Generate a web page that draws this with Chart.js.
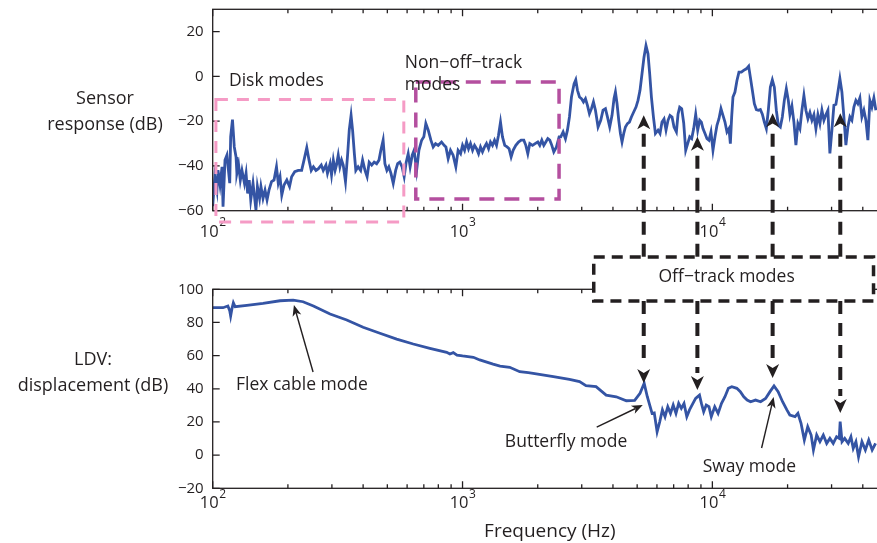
<!DOCTYPE html>
<html>
<head>
<meta charset="utf-8">
<script src="https://cdn.jsdelivr.net/npm/chart.js@4.4.0/dist/chart.umd.min.js"></script>
<style>
html, body { margin: 0; padding: 0; background: #fff; overflow: hidden; }
#wrap { position: relative; width: 877px; height: 543px; overflow: hidden; }
#wrap canvas { position: absolute; left: 0; top: 0; }
</style>
</head>
<body>
<div id="wrap">
    <canvas id="sensor-chart" width="890" height="543"></canvas>
    <canvas id="ldv-chart" width="890" height="543"></canvas>
</div>
<script>
const INK = '#231f20';
const BLUE = '#3454a4';
const PINK = '#f59bc5';
const PURPLE = '#b44f9f';
const FONT = '"Open Sans", sans-serif';

// Sensor response (dB) vs frequency (Hz)
let sensorFreq = [100, 102, 104, 105, 107, 109, 110, 112, 114, 117, 118, 120, 122, 124, 125, 127, 129, 131, 134, 136,
    138, 140, 142, 145, 147, 149, 151, 154, 156, 159, 162, 165, 168, 172, 176, 180, 183, 186, 189, 193,
    198, 203, 207, 213, 220, 227, 232, 238, 243, 248, 253, 259, 265, 272, 277, 284, 288, 295, 299, 304,
    309, 313, 318, 323, 328, 333, 340, 347, 352, 358, 363, 369, 374, 382, 391, 398, 407, 415, 423, 433,
    443, 453, 463, 471, 481, 489, 498, 507, 517, 528, 540, 550, 561, 573, 584, 595, 606, 617, 629, 640,
    655, 669, 686, 700, 713, 729, 747, 763, 780, 799, 824, 844, 858, 876, 895, 917, 940, 960, 982, 1000,
    1019, 1038, 1057, 1076, 1097, 1117, 1138, 1159, 1180, 1202, 1225, 1247, 1271, 1294, 1318, 1343, 1368, 1393, 1419, 1445,
    1476, 1508, 1536, 1565, 1594, 1634, 1675, 1716, 1759, 1792, 1825, 1859, 1906, 1952, 2001, 2038, 2076, 2115, 2154, 2194,
    2235, 2277, 2319, 2377, 2435, 2474, 2527, 2582, 2630, 2679, 2729, 2795, 2839, 2884, 2938, 2992, 3048, 3105, 3162, 3221,
    3281, 3342, 3404, 3487, 3574, 3651, 3733, 3802, 3883, 3966, 4040, 4093, 4154, 4220, 4285, 4349, 4418, 4487, 4571, 4656,
    4742, 4843, 4947, 5039, 5133, 5228, 5325, 5424, 5525, 5612, 5702, 5808, 5916, 6061, 6173, 6286, 6405, 6524, 6645, 6768,
    6895, 7023, 7178, 7286, 7400, 7538, 7678, 7821, 7966, 8115, 8265, 8419, 8576, 8736, 8898, 9036, 9170, 9342, 9515, 9692,
    9872, 10056, 10243, 10433, 10627, 10825, 11026, 11231, 11440, 11653, 11803, 11946, 12090, 12314, 12543, 12776, 13062, 13341, 13677, 13970,
    14191, 14454, 14723, 14997, 15276, 15560, 15849, 16144, 16444, 16749, 17061, 17378, 17701, 18030, 18365, 18707, 19055, 19409, 19770, 20137,
    20436, 20817, 21204, 21598, 22000, 22409, 22826, 23250, 23682, 24123, 24571, 25028, 25493, 25967, 26450, 26942, 27443, 27953, 28473, 29002,
    29541, 30091, 30650, 31220, 31800, 32392, 32994, 33607, 34232, 34869, 35517, 36178, 36850, 37536, 38233, 38944, 39669, 40406, 41158, 41923,
    42703, 43497, 44306, 45130];
let sensorDb = [-58, -44.8, -50.8, -41.9, -48.5, -40.4, -58.2, -37.4, -35.2, -47.7, -27, -19.3, -31.5, -36, -43.3, -39.6, -46.3, -42, -47.7, -43.3,
    -52.3, -46.3, -55.2, -47.7, -53.7, -59.7, -49.2, -54.5, -49.2, -54.5, -50.8, -55.2, -50.8, -47, -46.3, -40.4, -47.7, -44.8, -53, -48.5,
    -46.3, -49.2, -44.8, -42.6, -42, -42, -37.4, -31.8, -37.4, -42, -40.4, -42, -41.2, -39.6, -42, -39.6, -43.3, -39, -44, -37.4,
    -42, -39.6, -35.2, -40.4, -37.4, -39.6, -47, -34.5, -24, -17.4, -24, -34.5, -42, -40.4, -42, -37.4, -42, -44.8, -38.3, -39.6,
    -38.3, -39, -37.4, -33, -28.5, -39, -42, -40.4, -43.3, -47.8, -42, -39, -38.3, -40.4, -44.8, -38.3, -34.5, -40.4, -35.2, -33,
    -42, -33, -28.5, -27, -21, -24, -28.5, -31.5, -30, -30.8, -29.3, -30.8, -31.5, -36.7, -33, -35.2, -40.4, -33, -34.5, -30.8,
    -33, -29.3, -32.3, -30, -33, -30.8, -32.3, -34.5, -31.5, -33.7, -31.5, -30, -32.3, -29.3, -30.8, -28.5, -30.8, -26.3, -20.4, -27,
    -30.8, -31.5, -32.3, -36, -33, -30.8, -29.3, -28.5, -28.5, -30.8, -34.5, -30, -30.8, -30, -29.3, -30.8, -28.5, -30.8, -29.3, -27.8,
    -28.5, -30.8, -33.7, -31.5, -27, -27, -24.8, -27.8, -24, -18.1, -9.2, -3.3, -1.5, -6.2, -9.2, -9.9, -11.4, -9.9, -12.9, -16.6,
    -14.4, -11.4, -15.1, -22.6, -19.6, -15.1, -14.4, -18.1, -22.6, -17.4, -9.9, -7, -12.2, -19.6, -25.5, -29.3, -25.5, -22.6, -21.1, -20.4,
    -18.1, -15.9, -13.7, -10.7, -6.2, 1.2, 8.6, 13.8, 10.1, 1.2, -9.2, -18.1, -25.5, -24, -25.5, -20.4, -19, -24, -19.6, -17.4,
    -18.1, -22.6, -24.8, -16.9, -13.7, -14.4, -20.8, -33, -30, -27, -27.8, -23.3, -16.9, -24, -19.6, -20.4, -23.3, -25.5, -27.8, -28.5,
    -24.8, -33, -27, -21.8, -18.9, -14.4, -17.4, -20.4, -24.8, -23.3, -30, -18.1, -9.2, -7, -1.8, 1.9, 1.9, 2.7, 3.4, 4.6,
    -0.3, -6.2, -12.2, -14.8, -15.1, -14.8, -16.9, -20.4, -23.3, -15.1, -4.8, -1.5, -4.8, -15.1, -21.8, -22.6, -18.1, -10.7, -5.5, -10.7,
    -17.1, -13.2, -20.4, -30.7, -21.1, -23.3, -15.1, -8.5, -15.1, -18.9, -16.1, -19.6, -17.1, -23.3, -17.1, -21.1, -15.1, -19.6, -17.1, -15.1,
    -34.4, -24, -12.9, -12.5, -6.9, -1, -6.9, -18.1, -30.7, -22.6, -18.1, -19.6, -13.7, -10.7, -12.2, -9.6, -18.1, -15.1, -19.6, -28.5,
    -10.7, -13.7, -9.6, -15.1];
let sensorTicks = [-60, -40, -20, 0, 20];

// LDV displacement (dB) vs frequency (Hz)
let ldvFreq = [100, 110, 115, 117, 118, 119.5, 121, 123, 137, 159, 186, 210, 230, 253, 295, 344, 400, 467, 545, 635,
    740, 864, 890, 918, 950, 1000, 1105, 1172, 1325, 1413, 1545, 1694, 1833, 1917, 2310, 2679, 2940, 3120, 3423, 3757,
    4123, 4525, 4887, 5134, 5334, 5490, 5737, 5853, 6009, 6155, 6310, 6463, 6630, 6798, 6970, 7150, 7330, 7510, 7700, 7900,
    8100, 8360, 8570, 8880, 9040, 9230, 9450, 9690, 9900, 10220, 10540, 10880, 11230, 11590, 11960, 12530, 12940, 13360, 13780, 14220,
    14890, 15600, 16330, 17010, 17650, 18330, 19100, 19870, 20420, 21420, 22000, 22640, 23340, 24080, 24850, 25380, 26150, 26950, 27800, 28680,
    29540, 30460, 31420, 32200, 32470, 33040, 33860, 34970, 35860, 36630, 37550, 38460, 39690, 40960, 42250, 43610, 45000];
let ldvDb = [88.9, 88.9, 89.9, 87.1, 83.9, 88.5, 91.9, 89.5, 90.3, 91.5, 93.1, 93.5, 92.5, 89.9, 85.1, 81.5, 77.1, 73.5, 70, 67,
    64.4, 62, 61, 61.8, 60.3, 59.8, 59, 57.4, 54.9, 53.7, 53, 50.3, 49.7, 49.3, 47.3, 45.7, 44.3, 41.9, 41.3, 36.2,
    35.2, 32.8, 33, 37.3, 43.3, 35.2, 25.2, 25.5, 14.1, 20.1, 27.3, 23.2, 29.2, 25.2, 30.2, 25.2, 31.2, 28.2, 31.2, 23.2,
    27.3, 31.2, 34.2, 36.2, 31.2, 26.2, 30.2, 29.2, 23.2, 29.2, 25.2, 31.2, 35.2, 40.3, 41.3, 40.3, 38.3, 35.2, 33.2, 32.2,
    33.2, 32.2, 34.2, 38.3, 41.7, 38.3, 32.2, 27.3, 24.2, 23.2, 25.2, 19.2, 9.1, 17.1, 12.1, 3.1, 12.1, 8.1, 12.1, 7.1,
    10.1, 7.1, 11.1, 10.1, 20.2, 8.1, 10.1, 7.1, 11.1, 4.1, 8.1, -1, 8.1, 3.1, 9.1, 3.1, 7.1];
let ldvTicks = [-20, 0, 20, 40, 60, 80, 100];

let decades = [100, 1000, 10000];

// off-track modes: frequency and where each arrow meets the two curves
let offTrackFreq = [5312, 8710, 17425, 32510];
let offTrackSensorDb = [-17.4, -27, -16.5, -16.5];
let offTrackLdvDb = [43.5, 39.3, 46.5, 25.4];

function arrowHead(ctx, x0, y0, x1, y1, len, half) {
    let a = Math.atan2(y1 - y0, x1 - x0);
    let c = Math.cos(a), s = Math.sin(a);
    let bx = x1 - len * c, by = y1 - len * s;
    let nx = x1 - len * 0.72 * c, ny = y1 - len * 0.72 * s;
    ctx.beginPath();
    ctx.moveTo(x1, y1);
    ctx.lineTo(bx - half * s, by + half * c);
    ctx.lineTo(nx, ny);
    ctx.lineTo(bx + half * s, by - half * c);
    ctx.closePath();
    ctx.fill();
}

function dashedRect(ctx, x1, y1, x2, y2, color, width, dash, fill) {
    ctx.save();
    if (fill) {
        ctx.fillStyle = fill;
        ctx.fillRect(x1, y1, x2 - x1, y2 - y1);
    }
    ctx.strokeStyle = color;
    ctx.lineWidth = width;
    ctx.setLineDash(dash);
    ctx.strokeRect(x1, y1, x2 - x1, y2 - y1);
    ctx.restore();
}

// dashed shaft with a notched head at the tip end
function modeArrow(ctx, x, yBase, yTip) {
    let dir = yTip < yBase ? -1 : 1;
    let headLen = 14;
    ctx.save();
    ctx.strokeStyle = INK;
    ctx.fillStyle = INK;
    ctx.lineWidth = 4;
    ctx.setLineDash([13, 9]);
    ctx.beginPath();
    ctx.moveTo(x, yBase);
    ctx.lineTo(x, yTip - dir * (headLen + 3));
    ctx.stroke();
    arrowHead(ctx, x, yBase, x, yTip, headLen, 6.5);
    ctx.restore();
}

function pointer(ctx, x0, y0, x1, y1) {
    ctx.save();
    ctx.strokeStyle = INK;
    ctx.fillStyle = INK;
    ctx.lineWidth = 1.4;
    let a = Math.atan2(y1 - y0, x1 - x0);
    ctx.beginPath();
    ctx.moveTo(x0, y0);
    ctx.lineTo(x1 - 8 * Math.cos(a), y1 - 8 * Math.sin(a));
    ctx.stroke();
    arrowHead(ctx, x0, y0, x1, y1, 11, 4.5);
    ctx.restore();
}

function label(ctx, text, x, y, align) {
    ctx.textAlign = align || 'left';
    ctx.fillText(text, x, y);
}

// box, inward tick marks, decade labels and the horizontal y title
const frame = {
    id: 'frame',
    afterDraw(chart, args, opts) {
        let ctx = chart.ctx;
        let a = chart.chartArea;
        let xs = chart.scales.x, ys = chart.scales.y;
        ctx.save();
        ctx.strokeStyle = INK;
        ctx.lineWidth = 1.3;
        ctx.strokeRect(a.left, a.top, a.right - a.left, a.bottom - a.top);
        ctx.beginPath();
        decades.forEach(d => {
            for (let m = 1; m <= 9; m++) {
                let v = d * m;
                if (v > xs.max) break;
                let x = xs.getPixelForValue(v);
                let len = m === 1 ? 7 : 4;
                ctx.moveTo(x, a.bottom);
                ctx.lineTo(x, a.bottom - len);
                ctx.moveTo(x, a.top);
                ctx.lineTo(x, a.top + len);
            }
        });
        opts.ticks.forEach(v => {
            let y = ys.getPixelForValue(v);
            ctx.moveTo(a.left, y);
            ctx.lineTo(a.left + 7, y);
            ctx.moveTo(a.right, y);
            ctx.lineTo(a.right - 7, y);
        });
        ctx.stroke();

        ctx.fillStyle = INK;
        ctx.textBaseline = 'middle';
        decades.forEach(d => {
            let x = xs.getPixelForValue(d);
            let exp = String(Math.round(Math.log10(d)));
            ctx.font = '16.5px ' + FONT;
            let w10 = ctx.measureText('10').width;
            ctx.font = '12px ' + FONT;
            let we = ctx.measureText(exp).width;
            let left = x - (w10 + we) / 2;
            let y = a.bottom + opts.labelGap;
            ctx.font = '16.5px ' + FONT;
            label(ctx, '10', left, y);
            ctx.font = '12px ' + FONT;
            label(ctx, exp, left + w10 + 0.5, y - opts.expRise);
        });

        ctx.font = '18px ' + FONT;
        opts.title.forEach((line, i) => label(ctx, line, opts.titleX, opts.titleY[i], 'center'));
        ctx.restore();
    }
};

const sensorNotes = {
    id: 'sensorNotes',
    afterDraw(chart) {
        let ctx = chart.ctx;
        let xs = chart.scales.x, ys = chart.scales.y;
        let X = v => xs.getPixelForValue(v);
        let Y = v => ys.getPixelForValue(v);
        dashedRect(ctx, X(103), Y(-10.3), X(582), Y(-65), PINK, 3, [12, 9]);
        dashedRect(ctx, X(650), Y(-2.5), X(2434), Y(-54.8), PURPLE, 3.5, [15, 10]);
        ctx.save();
        ctx.fillStyle = INK;
        ctx.textBaseline = 'middle';
        ctx.font = '17.5px ' + FONT;
        label(ctx, 'Disk modes', X(116.2), Y(-2.1));
        label(ctx, 'Non\u2212off\u2212track', X(587), Y(6.2));
        label(ctx, 'modes', X(587), Y(-4));
        ctx.restore();
        // shafts run down to the top of the off-track box
        offTrackFreq.forEach((f, i) => modeArrow(ctx, X(f), Y(-80.6), Y(offTrackSensorDb[i])));
    }
};

const ldvNotes = {
    id: 'ldvNotes',
    afterDraw(chart) {
        let ctx = chart.ctx;
        let xs = chart.scales.x, ys = chart.scales.y;
        let X = v => xs.getPixelForValue(v);
        let Y = v => ys.getPixelForValue(v);
        dashedRect(ctx, X(3351), Y(119.5), X(44160), Y(92.9), INK, 3.5, [11, 7], '#fff');
        offTrackFreq.forEach((f, i) => modeArrow(ctx, X(f), Y(92.9), Y(offTrackLdvDb[i])));
        pointer(ctx, X(252.2), Y(50.1), X(211.4), Y(90.5));
        pointer(ctx, X(3444), Y(16.95), X(5264), Y(30.2));
        pointer(ctx, X(15740), Y(4.3), X(17590), Y(35));
        ctx.save();
        ctx.fillStyle = INK;
        ctx.textBaseline = 'middle';
        ctx.font = '17.5px ' + FONT;
        label(ctx, 'Off\u2212track modes', X(11404), Y(107.4), 'center');
        label(ctx, 'Flex cable mode', X(123.9), Y(42.3));
        label(ctx, 'Butterfly mode', X(1477), Y(8.1));
        label(ctx, 'Sway mode', X(9143), Y(-7.2));
        ctx.restore();
    }
};

function createChart(id, freq, db, yMin, yMax, ticks, padding, xHeight, frameOpts, notes, xTitle) {
    let ctx = document.getElementById(id).getContext('2d');
    return new Chart(ctx, {
        type: 'line',
        data: {
            datasets: [{
                data: freq.map((f, i) => ({ x: f, y: db[i] })),
                borderColor: BLUE,
                borderWidth: 2.8,
                pointRadius: 0,
                tension: 0,
                fill: false
            }]
        },
        options: {
            responsive: false,
            animation: false,
            events: [],
            layout: { padding: padding },
            scales: {
                x: {
                    type: 'logarithmic',
                    min: 100,
                    max: 50000,
                    grid: { display: false, drawTicks: false },
                    border: { display: false },
                    ticks: { display: false },
                    title: {
                        display: !!xTitle,
                        text: xTitle || '',
                        color: INK,
                        font: { family: FONT, size: 19 },
                        padding: { top: 0, bottom: 0 }
                    },
                    afterFit: s => {
                        s.height = xHeight;
                        s.paddingLeft = 0;
                        s.paddingRight = 0;
                    }
                },
                y: {
                    min: yMin,
                    max: yMax,
                    grid: { display: false, drawTicks: false },
                    border: { display: false },
                    afterBuildTicks: s => { s.ticks = ticks.map(v => ({ value: v })); },
                    ticks: {
                        color: INK,
                        padding: 9,
                        font: { family: FONT, size: 15 },
                        callback: v => String(v).replace('-', '\u2212')
                    },
                    afterFit: s => {
                        s.width = 212.7;
                        s.paddingTop = 0;
                        s.paddingBottom = 0;
                    }
                }
            },
            plugins: {
                legend: { display: false },
                tooltip: { enabled: false },
                frame: frameOpts
            }
        },
        plugins: [frame, notes]
    });
}

let sensorChart = createChart('sensor-chart', sensorFreq, sensorDb, -60, 30, sensorTicks,
    { left: 0, right: 3, top: 9.3, bottom: 300 }, 32.3,
    { ticks: sensorTicks, labelGap: 22, expRise: 10, title: ['Sensor', 'response (dB)'], titleX: 105, titleY: [99, 125] },
    sensorNotes);

let ldvChart = createChart('ldv-chart', ldvFreq, ldvDb, -20, 100, ldvTicks,
    { left: 0, right: 3, top: 289.3, bottom: 0 }, 54.7,
    { ticks: ldvTicks, labelGap: 15, expRise: 9, title: ['LDV:', 'displacement (dB)'], titleX: 93, titleY: [360, 386] },
    ldvNotes, 'Frequency (Hz)');
</script>
</body>
</html>
